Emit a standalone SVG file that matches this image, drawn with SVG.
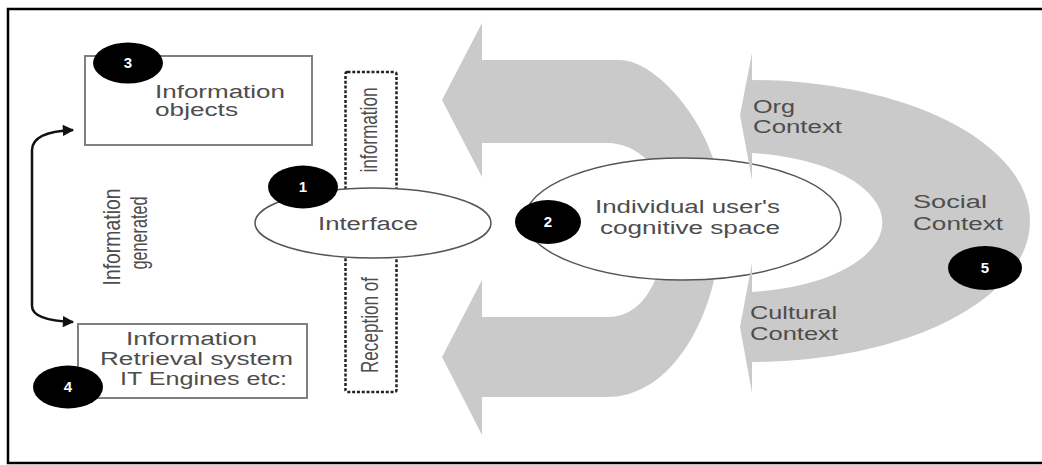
<svg xmlns="http://www.w3.org/2000/svg" width="1042" height="465" viewBox="0 0 1042 465">
  <style>
    .t { font-family: "Liberation Sans", Arial, sans-serif; font-size: 18px; fill: #4d4d4d; }
    .tr { font-family: "Liberation Sans", Arial, sans-serif; font-size: 17px; fill: #4d4d4d; text-anchor: middle; }
    .num { font-family: "Liberation Sans", Arial, sans-serif; font-size: 15px; font-weight: bold; fill: #ffffff; text-anchor: middle; }
    .badge { fill: #000000; }
    .box { fill: #ffffff; stroke: #808080; stroke-width: 2; }
    .ell { fill: #ffffff; stroke: #555555; stroke-width: 1.5; }
    .band { fill: #cacaca; }
    .dash { fill: none; stroke: #222222; stroke-width: 2.5; stroke-dasharray: 3 1.8; }
    .conn { fill: none; stroke: #111111; stroke-width: 2.5; }
  </style>
  <defs>
    <marker id="ah" viewBox="0 0 10 10" refX="9" refY="5" markerWidth="5" markerHeight="4.5" orient="auto-start-reverse" markerUnits="strokeWidth">
      <path d="M0,0 L10,5 L0,10 Z" fill="#111111"/>
    </marker>
  </defs>

  <rect width="1042" height="465" fill="#ffffff"/>
  <!-- frame -->
  <path d="M1042,9 L8,9 L8,463 L1042,463" fill="none" stroke="#000000" stroke-width="2.5"/>

  <!-- U-turn arrow (reception of information) -->
  <g id="u-arrow">
    <path class="band" d="M442,100 L482,23 L482,60 L620,60 C650,60 695,105 713,158 C722,185 722,260 710,295 C695,345 660,397 607,397 L482,397 L482,435 L442,357 L482,280 L482,317 L607,317 Q640,317 656,278 L690,250 L690,190 L648,161 Q630,143 607,143 L482,143 L482,177 Z"/>
  </g>

  <!-- node 2: cognitive space -->
  <g id="node-cognitive">
    <ellipse class="ell" cx="683" cy="219" rx="158" ry="61"/>
    <text class="t" x="595" y="213" textLength="185" lengthAdjust="spacingAndGlyphs">Individual user's</text>
    <text class="t" x="600" y="234" textLength="180" lengthAdjust="spacingAndGlyphs">cognitive space</text>
    <ellipse class="badge" cx="548" cy="222" rx="33" ry="22"/>
    <text class="num" x="548" y="227">2</text>
  </g>

  <!-- node 5: context band -->
  <g id="node-context">
    <path class="band" d="M752,80 A278,141 0 0 1 752,362 L752,393 L740,327 L752,263 L752,292 A148,70 0 0 0 752,153 L752,180 L740,115 L752,53 Z"/>
    <text class="t" x="753" y="113" textLength="42" lengthAdjust="spacingAndGlyphs">Org</text>
    <text class="t" x="753" y="133" textLength="89" lengthAdjust="spacingAndGlyphs">Context</text>
    <text class="t" x="913" y="208" textLength="74" lengthAdjust="spacingAndGlyphs">Social</text>
    <text class="t" x="913" y="230" textLength="90" lengthAdjust="spacingAndGlyphs">Context</text>
    <text class="t" x="750" y="319" textLength="87" lengthAdjust="spacingAndGlyphs">Cultural</text>
    <text class="t" x="750" y="340" textLength="88" lengthAdjust="spacingAndGlyphs">Context</text>
    <ellipse class="badge" cx="985" cy="268" rx="37" ry="22"/>
    <text class="num" x="985" y="273">5</text>
  </g>

  <!-- reception of information dashed box -->
  <g id="node-reception">
    <rect class="dash" x="345.5" y="72" width="51" height="320" rx="2"/>
    <text class="tr" transform="translate(377,130) scale(1.43,1) rotate(-90)" textLength="85" lengthAdjust="spacingAndGlyphs">information</text>
    <text class="tr" transform="translate(378,325) scale(1.43,1) rotate(-90)" textLength="96" lengthAdjust="spacingAndGlyphs">Reception of</text>
  </g>

  <!-- node 1: interface -->
  <g id="node-interface">
    <ellipse class="ell" cx="373" cy="223" rx="118" ry="35"/>
    <text class="t" x="318" y="230" textLength="100" lengthAdjust="spacingAndGlyphs">Interface</text>
    <ellipse class="badge" cx="303" cy="187" rx="35" ry="21.5"/>
    <text class="num" x="303" y="192">1</text>
  </g>

  <!-- node 3: information objects -->
  <g id="node-objects">
    <rect class="box" x="85" y="56" width="227" height="89"/>
    <text class="t" x="155" y="98" textLength="130" lengthAdjust="spacingAndGlyphs">Information</text>
    <text class="t" x="155" y="116" textLength="83" lengthAdjust="spacingAndGlyphs">objects</text>
    <ellipse class="badge" cx="128" cy="63" rx="35" ry="20.5"/>
    <text class="num" x="128" y="68">3</text>
  </g>

  <!-- node 4: IR system -->
  <g id="node-irsystem">
    <rect class="box" x="78" y="324" width="229" height="74"/>
    <text class="t" x="126" y="345" textLength="131" lengthAdjust="spacingAndGlyphs">Information</text>
    <text class="t" x="100" y="365" textLength="193" lengthAdjust="spacingAndGlyphs">Retrieval system</text>
    <text class="t" x="120" y="385" textLength="167" lengthAdjust="spacingAndGlyphs">IT Engines etc:</text>
    <ellipse class="badge" cx="68" cy="387" rx="35" ry="21.5"/>
    <text class="num" x="68" y="392">4</text>
  </g>

  <!-- connectors -->
  <g id="connectors">
    <path class="conn" d="M73,130 C50,131 32,136 32,150 L32,306 C32,316 48,321 73,322" marker-start="url(#ah)" marker-end="url(#ah)"/>
    <text class="tr" transform="translate(120,237) scale(1.43,1) rotate(-90)" textLength="97" lengthAdjust="spacingAndGlyphs">Information</text>
    <text class="tr" transform="translate(147,233) scale(1.43,1) rotate(-90)" textLength="73" lengthAdjust="spacingAndGlyphs">generated</text>
  </g>
</svg>
